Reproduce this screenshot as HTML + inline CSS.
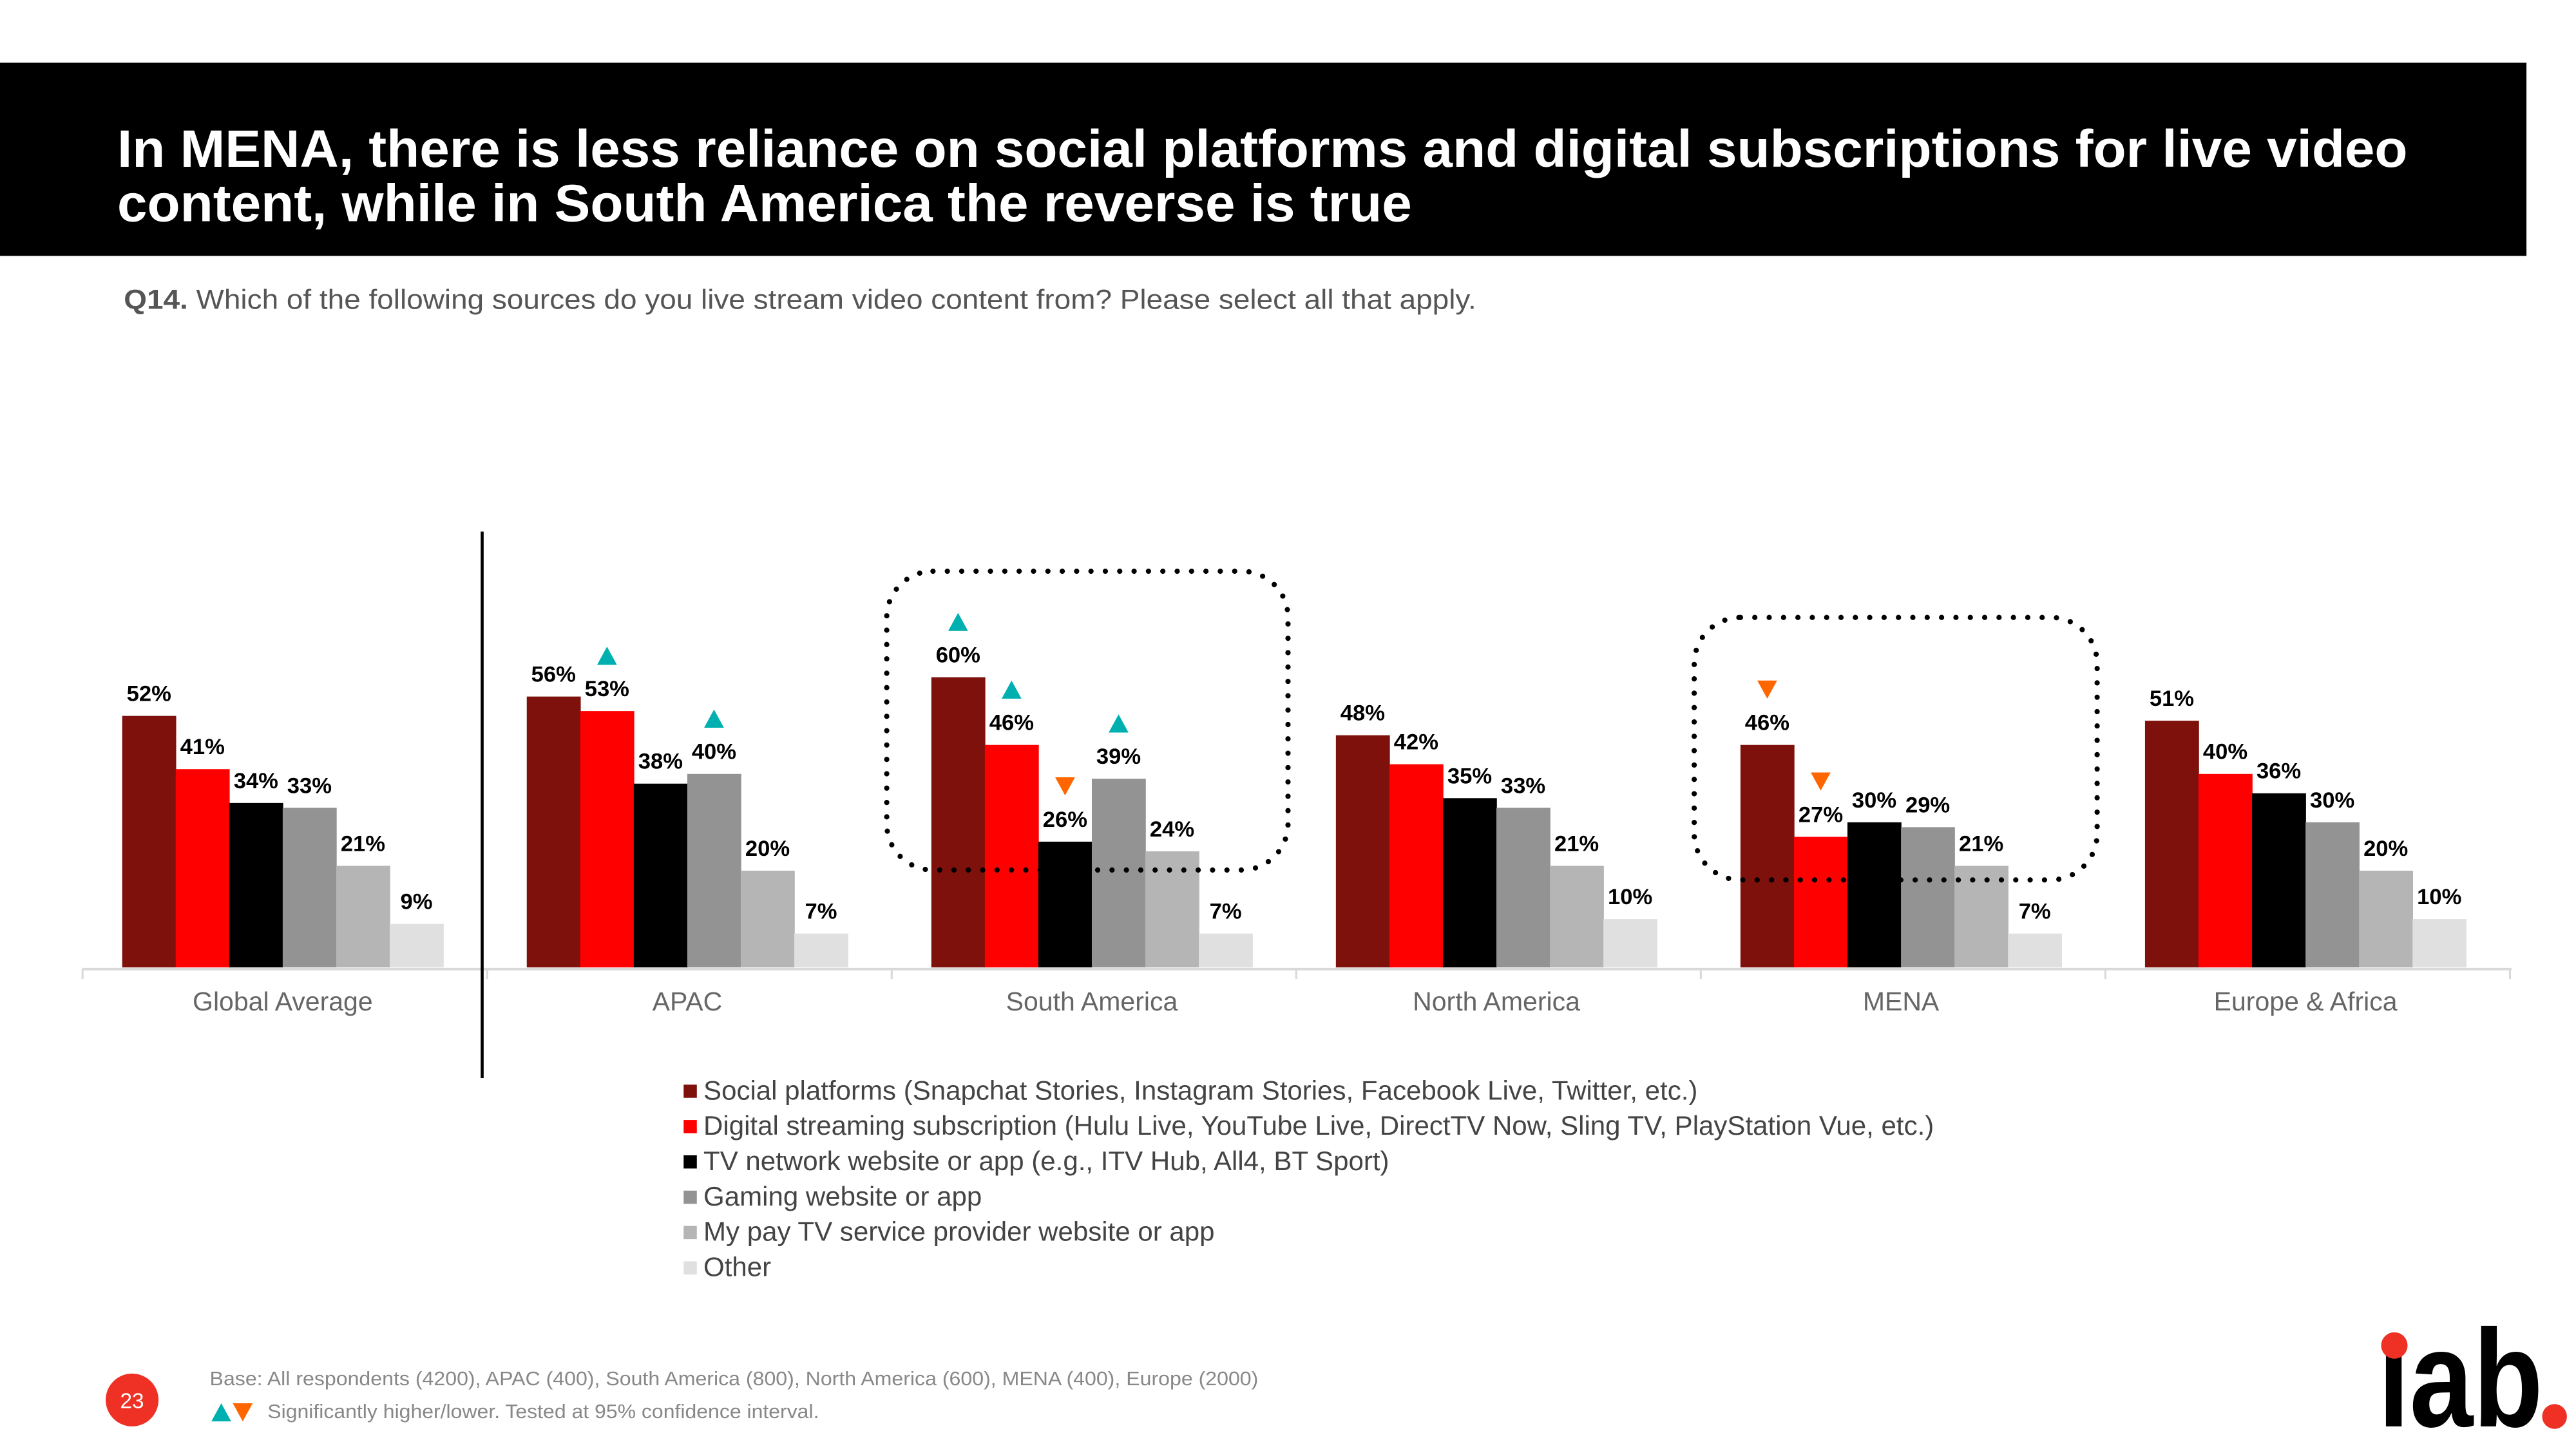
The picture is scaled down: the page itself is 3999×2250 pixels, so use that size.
<!DOCTYPE html>
<html><head><meta charset="utf-8"><style>
html,body{margin:0;padding:0;background:#fff;}
svg{display:block;font-family:"Liberation Sans",Arial,sans-serif;}
</style></head><body>
<svg id="chart" width="3999" height="2250" viewBox="0 0 1560 877.7" xmlns="http://www.w3.org/2000/svg">
<rect x="0" y="38" width="1530" height="117" fill="#000"/>
<text fill="#fff" font-weight="bold" font-size="32" x="71" y="101" textLength="1387" lengthAdjust="spacingAndGlyphs">In MENA, there is less reliance on social platforms and digital subscriptions for live video</text>
<text fill="#fff" font-weight="bold" font-size="32" x="71" y="134" textLength="784" lengthAdjust="spacingAndGlyphs">content, while in South America the reverse is true</text>
<text fill="#555" font-size="16.5" x="75" y="187" textLength="819" lengthAdjust="spacingAndGlyphs"><tspan font-weight="bold">Q14.</tspan> Which of the following sources do you live stream video content from? Please select all that apply.</text>
<g id="plot"></g>
<g id="legend"></g>
<circle cx="80" cy="848" r="16" fill="#ee3124"/>
<text x="80" y="853" fill="#fff" font-size="13" text-anchor="middle">23</text>
<text x="127" y="839" fill="#888" font-size="12" textLength="635" lengthAdjust="spacingAndGlyphs">Base: All respondents (4200), APAC (400), South America (800), North America (600), MENA (400), Europe (2000)</text>
<polygon points="128,861 140,861 134,850" fill="#00b0b0"/>
<polygon points="141,850 153,850 147,861" fill="#ff6600"/>
<text x="162" y="859" fill="#888" font-size="12" textLength="334" lengthAdjust="spacingAndGlyphs">Significantly higher/lower. Tested at 95% confidence interval.</text>
<g>
<text x="1440" y="864" font-size="84" font-weight="bold" fill="#000" textLength="100" lengthAdjust="spacingAndGlyphs">ıab</text>
<circle cx="1450" cy="815" r="8" fill="#ee3124"/>
<circle cx="1547" cy="858" r="7.5" fill="#ee3124"/>
</g>
</svg>
<script>
const categories = ["Global Average","APAC","South America","North America","MENA","Europe & Africa"];
const seriesNames = ["Social platforms (Snapchat Stories, Instagram Stories, Facebook Live, Twitter, etc.)","Digital streaming subscription (Hulu Live, YouTube Live, DirectTV Now, Sling TV, PlayStation Vue, etc.)","TV network website or app (e.g., ITV Hub, All4, BT Sport)","Gaming website or app","My pay TV service provider website or app","Other"];
const social = [52,56,60,48,46,51];
const digital = [41,53,46,42,27,40];
const tvNetwork = [34,38,26,35,30,36];
const gaming = [33,40,39,33,29,30];
const payTv = [21,20,24,21,21,20];
const other = [9,7,7,10,7,10];
// significance markers: [categoryIndex, seriesIndex, direction]
const markers = [[1,1,"up"],[1,3,"up"],[2,0,"up"],[2,1,"up"],[2,2,"down"],[2,3,"up"],[4,0,"down"],[4,1,"down"]];
const series = [social,digital,tvNetwork,gaming,payTv,other];
const colors = ["#7f110c","#ff0000","#000000","#939393","#b5b5b5","#e0e0e0"];
const NS="http://www.w3.org/2000/svg";
const plot=document.getElementById('plot');
const baseY=586, pxPer=2.93, groupX0=74, groupStep=245, barW=32.4;
function y(v){return baseY - v*pxPer;}
function x(ci,si){return groupX0 + ci*groupStep + si*barW;}
function mk(tag,attrs,parent){const e=document.createElementNS(NS,tag);for(const k in attrs)e.setAttribute(k,attrs[k]);(parent||plot).appendChild(e);return e;}
let ax=mk('line',{x1:50,x2:1521,y1:baseY+1,y2:baseY+1,stroke:'#d9d9d9','stroke-width':1.5});


for(let i=0;i<=categories.length;i++){const tx=50+i*groupStep;
 let t=mk('line',{x1:tx,x2:tx,y1:baseY+1,y2:baseY+7,stroke:'#d9d9d9','stroke-width':1.2});
 
 }
categories.forEach((c,ci)=>{
 let t=mk('text',{x:x(ci,3),y:612,'text-anchor':'middle','font-size':16,fill:'#666'});t.textContent=c;
 
 
 series.forEach((s,si)=>{
  const v=s[ci];
  let r=mk('rect',{x:x(ci,si),y:y(v),width:barW+0.3,height:v*pxPer,fill:colors[si]});
  
  
  let l=mk('text',{x:x(ci,si)+barW/2,y:y(v)-9,'text-anchor':'middle','font-size':13.5,'font-weight':'bold',fill:'#000'});l.textContent=v+'%';
  
  
 });
});
markers.forEach(m=>{
 const [ci,si,d]=m; const cx=x(ci,si)+barW/2; const ty=y(series[si][ci])-38;
 const pts = d==='up' ? `${cx-6},${ty+10} ${cx+6},${ty+10} ${cx},${ty-1}` : `${cx-6},${ty-1} ${cx+6},${ty-1} ${cx},${ty+10}`;
 let p=mk('polygon',{points:pts,fill:d==='up'?'#00b0b0':'#ff6600'});
 
 
});
let dv=mk('line',{x1:292,x2:292,y1:322,y2:653,stroke:'#000','stroke-width':1.8});


[[537,346,243,181],[1026,374,244,159]].forEach(b=>{
 let r=mk('rect',{x:b[0],y:b[1],width:b[2],height:b[3],rx:28,fill:'none',stroke:'#000','stroke-width':3.2,'stroke-dasharray':'0 8.7','stroke-linecap':'round'});
 
 
});
const lg=document.getElementById('legend');
seriesNames.forEach((n,i)=>{
 const ly=666+i*21.4;
 let s=mk('rect',{x:414,y:ly-9,width:8,height:8,fill:colors[i]},lg);
 
 
 let t=mk('text',{x:426,y:ly,'font-size':16.4,fill:'#444'},lg);t.textContent=n;
 
 
});
</script>
</body></html>
